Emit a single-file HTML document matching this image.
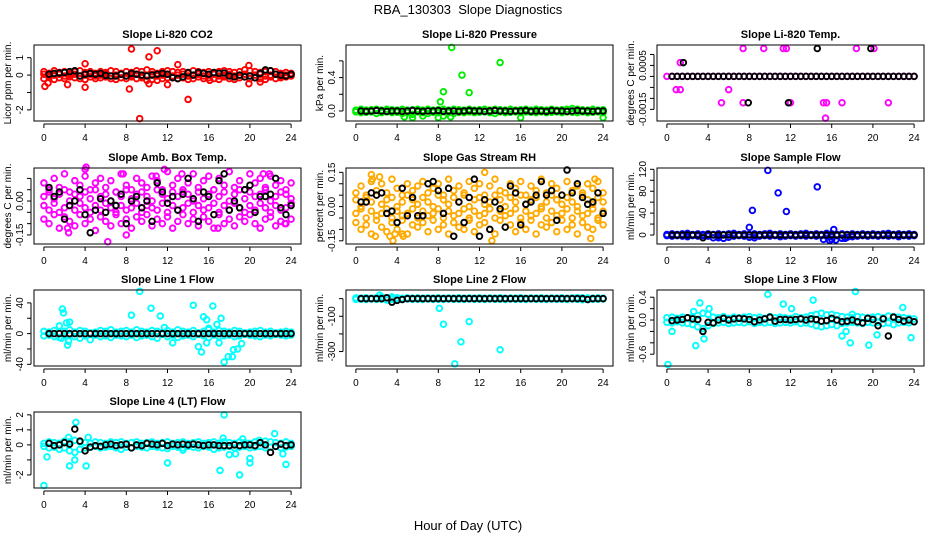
<!DOCTYPE html>
<html><head><meta charset="utf-8"><style>
body{margin:0;background:#fff}
svg{display:block;font-family:"Liberation Sans",sans-serif}
</style></head><body>
<svg id="chart" width="936" height="540" viewBox="0 0 936 540" xmlns="http://www.w3.org/2000/svg">
<rect width="936" height="540" fill="#fff"/>
<text x="468" y="14" font-size="13" text-anchor="middle">RBA_130303&#160; Slope Diagnostics</text>
<text x="468" y="530" font-size="13" text-anchor="middle">Hour of Day (UTC)</text>
</svg>
<script>
// ---------- data (bands sampled every 0.5 h; hourly-avg markers from 0.5 h) ----------
const xTicks = [0,4,8,12,16,20,24];
const xTickLabels = ["0","4","8","12","16","20","24"];

const co2Band1 = [0.2,0.1,0.25,0.15,0.2,0.1,0.2,0.25,0.15,0.2,0.1,0.2,0.15,0.25,0.2,0.1,0.2,0.15,0.25,0.2,0.3,0.2,0.1,0.2,0.25,0.2,0.15,0.2,0.1,0.25,0.2,0.15,0.2,0.1,0.2,0.25,0.2,0.15,0.2,0.3,0.25,0.2,0.15,0.2,0.25,0.2,0.1,0.15,0.1];
const co2Band2 = [-0.2,-0.1,-0.25,-0.15,-0.2,-0.1,-0.15,-0.2,-0.25,-0.1,-0.2,-0.15,-0.1,-0.2,-0.25,-0.15,-0.2,-0.1,-0.2,-0.15,-0.3,-0.25,-0.3,-0.2,-0.15,-0.1,-0.2,-0.15,-0.25,-0.2,-0.1,-0.2,-0.15,-0.2,-0.25,-0.1,-0.2,-0.25,-0.15,-0.1,-0.2,-0.15,-0.2,-0.25,-0.1,-0.2,-0.15,-0.1,-0.05];
const co2Band3 = [0.05,-0.05,0,0.05,-0.05,0,0.05,-0.05,0,0.05,-0.05,0,0.05,-0.05,0,0.05,-0.05,0,0.05,-0.05,0,0.05,-0.05,0,0.05,-0.05,0,0.05,-0.05,0,0.05,-0.05,0,0.05,-0.05,0,0.05,-0.05,0,0.05,-0.05,0,0.05,-0.05,0,0.05,-0.05,0,0.05];
const co2OutX = [0.1,0.4,4,4,8.3,8.5,9.3,10.2,10.2,11,12,13,14,19.9,19.9,2.3,21,16.1];
const co2OutY = [-0.65,-0.45,0.65,-0.7,-0.8,1.5,-2.5,1.05,-0.5,1.4,-0.55,0.6,-1.4,0.55,-0.5,-0.55,-0.4,-0.3];
const co2Avg = [0.05,0.1,0.12,0.15,0.2,0.25,-0.05,0.05,0.1,0.05,0.1,-0.02,-0.05,-0.05,0.05,-0.05,0.1,0.05,0,-0.05,0,0.05,0.1,0.05,-0.15,-0.2,-0.1,0.15,0,0.15,0.1,0.05,0.15,0.1,0.12,-0.05,-0.1,0,-0.1,-0.05,-0.15,0.1,0.3,0.25,0.05,0,-0.05,0.05];

const presBand1 = [0.01,0.02,0.01,0.015,0.02,0.01,0.02,0.015,0.01,0.02,0.01,0.015,0.02,0.01,0.02,0.01,0.015,0.02,0.01,0.02,0.015,0.01,0.02,0.01,0.015,0.02,0.01,0.02,0.015,0.01,0.02,0.01,0.015,0.02,0.01,0.02,0.015,0.01,0.02,0.01,0.015,0.02,0.03,0.02,0.015,0.01,0.02,0.01,0.015];
const presBand2 = [-0.01,-0.02,-0.015,-0.01,-0.03,-0.02,-0.01,-0.02,-0.015,-0.03,-0.02,-0.04,-0.01,-0.02,-0.03,-0.015,-0.02,-0.01,-0.02,-0.03,-0.015,-0.02,-0.01,-0.02,-0.015,-0.01,-0.02,-0.03,-0.01,-0.02,-0.015,-0.01,-0.02,-0.01,-0.015,-0.02,-0.01,-0.02,-0.015,-0.01,-0.02,-0.01,-0.015,-0.02,-0.01,-0.02,-0.015,-0.01,-0.02];
const presOutX = [9.3,14,10.3,8.5,11,8.2,4.7,5.5,6.5,8,9.2,16,24,8.5];
const presOutY = [0.76,0.58,0.43,0.23,0.22,0.11,-0.07,-0.08,-0.06,-0.08,-0.07,-0.08,-0.08,-0.06];
const presAvg = [0,-0.005,0,0.005,0,-0.005,0,0,-0.005,0,0.005,0,-0.005,0,0,0.005,-0.005,0,0,-0.005,0,0.005,0,0,-0.005,0,0.005,0,0,-0.005,0,0,0.005,-0.005,0,0,-0.005,0.005,0,0,-0.005,0,0.005,0,0,-0.005,0,0];

const tempBand1 = [0,0,0,0,0,0,0,0,0,0,0,0,0,0,0,0,0,0,0,0,0,0,0,0,0,0,0,0,0,0,0,0,0,0,0,0,0,0,0,0,0,0,0,0,0,0,0,0,0];
const tempOutX = [7.4,9.4,11.3,11.6,18.4,20.1,1.3,0.9,1.3,6,5.3,7.4,12,15.2,15.5,17,21.5,15.4];
const tempOutY = [0.00127,0.00127,0.00127,0.00127,0.00127,0.00127,0.00063,-0.0006,-0.0006,-0.0006,-0.0012,-0.0012,-0.0012,-0.0012,-0.0012,-0.0012,-0.0012,-0.0019];
const tempAvg = [0,0,0,0,0,0,0,0,0,0,0,0,0,0,0,0,0,0,0,0,0,0,0,0,0,0,0,0,0,0,0,0,0,0,0,0,0,0,0,0,0,0,0,0,0,0,0,0];
const tempAvgOutX = [14.6,19.8,1.6,7.9,11.8];
const tempAvgOutY = [0.00127,0.00127,0.00063,-0.0012,-0.0012];

const ambBand1 = [0.08,0.05,0.1,0.06,0.12,0.04,0.09,0.07,0.11,0.05,0.08,0.1,0.06,0.09,0.04,0.12,0.07,0.05,0.1,0.08,0.06,0.11,0.09,0.05,0.13,0.07,0.1,0.04,0.08,0.12,0.06,0.09,0.11,0.05,0.1,0.07,0.13,0.06,0.09,0.05,0.12,0.08,0.1,0.06,0.11,0.07,0.09,0.05,0.08];
const ambBand2 = [0.02,0.04,0.01,0.03,0.05,0,0.03,0.02,0.04,0.01,0.05,0.02,0.03,0,0.04,0.02,0.05,0.01,0.03,0.04,0.02,0,0.05,0.03,0.01,0.04,0.02,0.05,0.03,0,0.04,0.01,0.03,0.05,0.02,0.04,0,0.03,0.05,0.01,0.04,0.02,0.03,0.05,0,0.02,0.04,0.03,0.01];
const ambBand3 = [-0.02,-0.04,-0.01,-0.05,-0.03,-0.02,-0.04,-0.01,-0.03,-0.05,-0.02,-0.04,-0.01,-0.03,-0.05,-0.02,-0.04,-0.03,-0.01,-0.05,-0.02,-0.03,-0.04,-0.01,-0.05,-0.02,-0.04,-0.03,-0.01,-0.05,-0.02,-0.04,-0.03,-0.01,-0.05,-0.02,-0.04,-0.01,-0.03,-0.05,-0.02,-0.04,-0.01,-0.03,-0.05,-0.02,-0.04,-0.03,-0.01];
const ambBand4 = [-0.08,-0.1,-0.06,-0.12,-0.07,-0.09,-0.11,-0.06,-0.1,-0.08,-0.13,-0.07,-0.09,-0.11,-0.06,-0.1,-0.08,-0.12,-0.07,-0.09,-0.06,-0.11,-0.08,-0.1,-0.07,-0.12,-0.09,-0.06,-0.1,-0.08,-0.11,-0.07,-0.09,-0.12,-0.06,-0.1,-0.08,-0.11,-0.07,-0.09,-0.06,-0.1,-0.12,-0.08,-0.07,-0.11,-0.09,-0.1,-0.08];
const ambOutX = [2.3,2.4,4,4.1,6.2,7.7,8,11.7,16.9,21.3,21.9,23.4,13.4,10.9];
const ambOutY = [-0.12,-0.14,0.14,0.15,-0.18,0.12,-0.15,0.14,-0.12,0.12,0.12,-0.1,0.12,0.11];
const ambAvg = [0.06,0.02,0.04,-0.08,-0.02,0,0.05,-0.06,-0.14,-0.04,0.01,-0.05,0,-0.02,0.03,-0.1,0,0.02,-0.03,0,-0.09,0.08,0.04,-0.01,0.02,-0.04,0.03,0.1,0.01,-0.09,0.04,0.02,-0.06,0.09,0.12,-0.04,0,-0.03,0.05,0.07,-0.05,0.02,0.02,0.03,0.1,-0.03,-0.06,-0.02];

const rhBand1 = [0.06,0.09,0.05,0.11,0.07,0.1,0.06,0.12,0.08,0.05,0.1,0.07,0.09,0.11,0.06,0.08,0.1,0.05,0.12,0.07,0.09,0.06,0.11,0.08,0.1,0.05,0.09,0.12,0.07,0.06,0.1,0.08,0.11,0.05,0.09,0.07,0.12,0.06,0.1,0.08,0.05,0.11,0.07,0.09,0.06,0.1,0.08,0.11,0.06];
const rhBand2 = [0.03,0,0.04,0.02,0.05,0.01,0.03,0.04,0,0.02,0.05,0.03,0.01,0.04,0.02,0,0.05,0.03,0.01,0.04,0.02,0.05,0,0.03,0.04,0.01,0.02,0.05,0.03,0,0.04,0.02,0.05,0.01,0.03,0.04,0,0.02,0.05,0.03,0.01,0.04,0.02,0,0.05,0.03,0.01,0.04,0.02];
const rhBand3 = [-0.03,-0.01,-0.05,-0.02,-0.04,-0.03,-0.01,-0.05,-0.02,-0.04,-0.03,-0.01,-0.05,-0.02,-0.04,-0.03,-0.01,-0.05,-0.02,-0.04,-0.03,-0.01,-0.05,-0.02,-0.04,-0.03,-0.01,-0.05,-0.02,-0.04,-0.03,-0.01,-0.05,-0.02,-0.04,-0.03,-0.01,-0.05,-0.02,-0.04,-0.03,-0.01,-0.05,-0.02,-0.04,-0.03,-0.01,-0.05,-0.02];
const rhBand4 = [-0.07,-0.1,-0.08,-0.12,-0.06,-0.09,-0.11,-0.07,-0.1,-0.06,-0.12,-0.08,-0.09,-0.07,-0.11,-0.06,-0.1,-0.08,-0.12,-0.07,-0.09,-0.1,-0.06,-0.11,-0.08,-0.07,-0.1,-0.12,-0.06,-0.09,-0.08,-0.11,-0.07,-0.1,-0.06,-0.12,-0.08,-0.09,-0.07,-0.11,-0.06,-0.1,-0.08,-0.12,-0.07,-0.09,-0.1,-0.06,-0.08];
const rhOutX = [1.5,1.6,1.9,2.3,3.3,3.6,3.8,4.5,4.6,12.5,13.2,23.2,22.8];
const rhOutY = [0.14,0.12,-0.13,0.13,-0.13,-0.15,-0.12,-0.12,-0.13,0.15,-0.15,0.12,-0.14];
const rhAvg = [0.02,0.02,0.06,0.05,0.06,-0.03,-0.02,-0.07,0.08,-0.04,0.04,-0.04,-0.04,0.1,0.11,0.07,-0.03,0.08,-0.13,0.02,-0.07,0.04,0.12,-0.13,0.03,-0.1,0.02,-0.01,-0.09,0.09,0.06,-0.08,0.01,0.02,0.05,0.11,0.05,0.07,-0.06,0.05,0.16,0.06,0.1,0.04,0.01,0.02,0.06,-0.03];

const sfBand1 = [1,2,1,2,3,1,2,1,2,1,2,1,2,3,1,2,1,2,1,2,3,1,2,1,2,1,2,3,1,2,1,3,2,1,2,1,2,1,2,1,2,1,2,3,1,2,1,2,1];
const sfBand2 = [-1,-2,-1,-2,-3,-1,-2,-1,-2,-5,-3,-6,-4,-2,-1,-2,-4,-1,-2,-1,-2,-1,-3,-2,-1,-2,-1,-2,-1,-2,-1,-2,-3,-1,-6,-4,-3,-2,-1,-2,-1,-2,-1,-2,-1,-3,-1,-2,-1];
const sfOutX = [9.8,10.8,11.6,8.3,8,14.6,16,16.2,8.5,5,15.2,17.3,15.8,16.4];
const sfOutY = [118,77,43,45,14,88,-8,10,-5,-5,-8,-6,-10,-9];
const sfAvg = [0,0,0,0,0,0,-5,1,0,0,0,0,0,0,0,0,0,0,0,0,0,0,0,0,0,0,0,0,0,0,0,0,0,0,0,0,0,0,0,0,0,0,0,0,0,0,0,0];

const l1Band1 = [3,2,4,1,3,5,2,4,3,1,2,4,3,5,2,3,4,2,5,3,2,4,3,1,4,2,5,3,2,4,1,3,5,2,4,3,2,4,3,1,2,3,4,2,3,1,2,3,2];
const l1Band2 = [-3,-2,-4,-5,-3,-2,-4,-6,-3,-8,-2,-4,-3,-5,-2,-3,-4,-2,-5,-3,-2,-4,-6,-1,-4,-2,-5,-3,-2,-4,-1,-3,-5,-2,-4,-3,-2,-4,-3,-1,-2,-3,-4,-2,-3,-1,-2,-3,-2];
const l1OutX = [1.5,1.8,1.9,2.2,2.5,2.3,2.4,1.7,8.5,9.3,10.4,11.3,11.7,12.5,14.5,15,15.3,15.5,15.8,16,16.4,16.8,17.2,17.5,17.9,18.3,18.4,18.8,19.2,17,15.8];
const l1OutY = [10,32,27,14,15,-15,-10,-6,24,55,33,23,8,-12,37,-17,-24,22,18,7,36,12,20,-37,-30,-30,-21,-20,-13,-12,-12];
const l1Avg = [0,0,0,0,0,0,0,0,0,0,0,0,0,0,0,0,0,0,0,0,0,0,0,0,0,0,0,0,0,0,0,0,0,0,0,0,0,0,0,0,0,0,0,0,0,0,0,0];

const l2Band1 = [4,3,5,2,6,10,4,3,5,2,4,3,5,2,4,3,5,2,4,3,5,2,4,3,5,2,4,3,5,2,4,3,5,2,4,3,5,2,4,3,5,2,4,6,5,4,3,5,2];
const l2Band2 = [-4,-3,-5,-2,-4,-3,-8,-4,-3,-5,-2,-4,-3,-5,-2,-4,-3,-5,-2,-4,-3,-5,-2,-4,-3,-5,-2,-4,-3,-5,-2,-4,-3,-5,-2,-4,-3,-5,-2,-4,-3,-5,-2,-4,-6,-5,-4,-3,-2];
const l2OutX = [8.1,8.5,9.6,10.2,11,14,2.3,3.5];
const l2OutY = [-55,-145,-370,-245,-130,-290,20,10];
const l2Avg = [0,0,0,0,0,5,-20,-10,-5,0,0,0,0,0,0,0,0,0,0,0,0,0,0,0,0,0,0,0,0,0,0,0,0,0,0,0,0,0,0,0,0,0,0,0,-5,0,0,0];

const l3Band1 = [0.04,0.05,0.03,0.05,0.04,0.06,0.08,0.12,0.1,0.05,0.04,0.06,0.03,0.05,0.04,0.05,0.06,0.04,0.05,0.03,0.06,0.04,0.05,0.04,0.03,0.06,0.04,0.05,0.08,0.1,0.12,0.09,0.1,0.08,0.06,0.05,0.04,0.06,0.05,0.04,0.05,0.06,0.04,0.07,0.06,0.05,0.04,0.03,0.02];
const l3Band2 = [-0.04,-0.05,-0.03,-0.05,-0.06,-0.08,-0.12,-0.15,-0.1,-0.06,-0.05,-0.04,-0.06,-0.05,-0.04,-0.05,-0.03,-0.06,-0.04,-0.05,-0.04,-0.06,-0.05,-0.04,-0.05,-0.03,-0.06,-0.05,-0.07,-0.1,-0.12,-0.1,-0.08,-0.1,-0.06,-0.05,-0.04,-0.05,-0.06,-0.04,-0.05,-0.04,-0.06,-0.05,-0.08,-0.05,-0.04,-0.05,-0.03];
const l3OutX = [0.1,0.5,2.8,3.2,3.6,2.6,4.1,9.8,11.3,12.1,14.2,17,17.4,17.8,18.3,18,19.6,20.4,23.7,22.9];
const l3OutY = [-0.78,-0.2,-0.45,0.3,-0.33,0.15,0.2,0.45,0.28,0.2,0.35,-0.28,-0.2,-0.4,0.5,0.1,-0.44,-0.26,-0.31,0.22];
const l3Avg = [-0.01,0,0.01,0.04,0.02,0.01,-0.2,-0.04,-0.05,0,0.03,0,0.02,0.03,0.02,0.01,-0.03,0,0.02,0.05,-0.02,0.01,0.01,0,0.01,0.02,0,0.02,0.01,-0.02,-0.01,0.03,0,-0.03,-0.02,0,-0.03,-0.05,0.03,0.01,-0.1,0.02,-0.28,0.05,0.01,-0.02,0,-0.03];

const l4Band1 = [0.1,0.2,0.15,0.1,0.25,0.2,0.3,0.2,0.15,0.1,0.2,0.15,0.1,0.2,0.15,0.2,0.1,0.15,0.2,0.1,0.15,0.2,0.1,0.15,0.2,0.1,0.15,0.2,0.1,0.15,0.2,0.1,0.15,0.2,0.1,0.2,0.15,0.1,0.2,0.15,0.1,0.2,0.15,0.25,0.2,0.15,0.1,0.2,0.1];
const l4Band2 = [-0.1,-0.2,-0.15,-0.3,-0.2,-0.4,-0.5,-0.3,-0.2,-0.15,-0.1,-0.2,-0.15,-0.1,-0.2,-0.3,-0.15,-0.2,-0.1,-0.15,-0.2,-0.1,-0.15,-0.2,-0.25,-0.1,-0.15,-0.2,-0.1,-0.15,-0.2,-0.1,-0.15,-0.3,-0.2,-0.15,-0.1,-0.2,-0.15,-0.1,-0.2,-0.15,-0.1,-0.2,-0.15,-0.1,-0.2,-0.15,-0.1];
const l4OutX = [0,0.3,2.5,2.4,3,3.1,4.1,4.3,12,13.5,17.1,17.5,17.4,18,18.6,19,19.3,20,20,20.9,22.4,23.2,23.5];
const l4OutY = [-2.7,-0.8,-1.4,0.5,-1,1.5,-1.4,0.5,-1.2,-0.35,-1.7,2,0.45,-0.65,-0.6,-2,0.4,-1.2,-0.9,0.3,0.75,-0.6,-1.3];
const l4Avg = [0.1,-0.05,0,0.15,0.05,1.05,0.25,-0.4,-0.15,-0.05,-0.1,0,0.05,-0.05,0,0.05,-0.2,0,-0.05,0.1,0.05,0,0.1,-0.05,0.05,0,0.05,0,0.05,0,-0.05,0,0,-0.05,-0.05,-0.05,0,-0.05,0,0,-0.05,0.15,0,-0.5,-0.1,0.05,-0.05,0];

// ---------- panels ----------
const panels = [
 {id:"co2",title:"Slope Li-820 CO2",ylab:"Licor ppm per min.",col:0,row:0,ymin:-2.64,ymax:1.73,ticks:[1,0,-1,-2],labels:[["1",1],["0",0],["-2",-2]],color:"#ff0000",bands:[co2Band1,co2Band2,co2Band3],ox:co2OutX,oy:co2OutY,avg:co2Avg},
 {id:"pressure",title:"Slope Li-820 Pressure",ylab:"kPa per min.",col:1,row:0,ymin:-0.12,ymax:0.79,ticks:[0,0.2,0.4,0.6],labels:[["0.0",0],["0.4",0.4]],color:"#00ee00",bands:[presBand1,presBand2],ox:presOutX,oy:presOutY,avg:presAvg},
 {id:"temp",title:"Slope Li-820 Temp.",ylab:"degrees C per min.",col:2,row:0,ymin:-0.00203,ymax:0.00143,ticks:[0.001,0.0005,0,-0.0005,-0.001,-0.0015],labels:[["0.0005",0.0005],["-0.0015",-0.0015]],color:"#ff00ff",bands:[tempBand1],ox:tempOutX,oy:tempOutY,avg:tempAvg,ax:tempAvgOutX,ay:tempAvgOutY},
 {id:"amb-box-temp",title:"Slope Amb. Box Temp.",ylab:"degrees C per min.",col:0,row:1,ymin:-0.19,ymax:0.146,ticks:[0.1,0.05,0,-0.05,-0.1,-0.15],labels:[["0.00",0],["-0.15",-0.15]],color:"#ff00ff",bands:[ambBand1,ambBand2,ambBand3,ambBand4],ox:ambOutX,oy:ambOutY,avg:ambAvg},
 {id:"gas-stream-rh",title:"Slope Gas Stream RH",ylab:"percent per min.",col:1,row:1,ymin:-0.164,ymax:0.169,ticks:[0.15,0.1,0.05,0,-0.05,-0.1,-0.15],labels:[["0.15",0.15],["0.00",0],["-0.15",-0.15]],color:"#ffaa00",bands:[rhBand1,rhBand2,rhBand3,rhBand4],ox:rhOutX,oy:rhOutY,avg:rhAvg},
 {id:"sample-flow",title:"Slope Sample Flow",ylab:"ml/min per min.",col:2,row:1,ymin:-16.4,ymax:122.4,ticks:[0,20,40,60,80,100,120],labels:[["0",0],["40",40],["80",80],["120",120]],color:"#0000ff",bands:[sfBand1,sfBand2],ox:sfOutX,oy:sfOutY,avg:sfAvg},
 {id:"line1-flow",title:"Slope Line 1 Flow",ylab:"ml/min per min.",col:0,row:2,ymin:-42.2,ymax:56.8,ticks:[40,20,0,-20,-40],labels:[["40",40],["0",0],["-40",-40]],color:"#00ffff",bands:[l1Band1,l1Band2],ox:l1OutX,oy:l1OutY,avg:l1Avg},
 {id:"line2-flow",title:"Slope Line 2 Flow",ylab:"ml/min per min.",col:1,row:2,ymin:-382,ymax:49,ticks:[0,-100,-200,-300],labels:[["-100",-100],["-300",-300]],color:"#00ffff",bands:[l2Band1,l2Band2],ox:l2OutX,oy:l2OutY,avg:l2Avg},
 {id:"line3-flow",title:"Slope Line 3 Flow",ylab:"ml/min per min.",col:2,row:2,ymin:-0.807,ymax:0.527,ticks:[0.4,0.2,0,-0.2,-0.4,-0.6],labels:[["0.4",0.4],["0.0",0],["-0.6",-0.6]],color:"#00ffff",bands:[l3Band1,l3Band2],ox:l3OutX,oy:l3OutY,avg:l3Avg},
 {id:"line4-flow",title:"Slope Line 4 (LT) Flow",ylab:"ml/min per min.",col:0,row:3,ymin:-2.87,ymax:2.19,ticks:[2,1,0,-1,-2],labels:[["2",2],["1",1],["0",0],["-2",-2]],color:"#00ffff",bands:[l4Band1,l4Band2],ox:l4OutX,oy:l4OutY,avg:l4Avg}
];

const NS="http://www.w3.org/2000/svg";
const svg=document.getElementById('chart');
const colLeft=[34,346,657], rowTop=[45,168,290,412], PW=267, PH=76;
const R=2.8, SW=1.9;
function mk(tag,attrs,parent){const e=document.createElementNS(NS,tag);for(const k in attrs)e.setAttribute(k,attrs[k]);parent.appendChild(e);return e;}

panels.forEach(p=>{
  const L=colLeft[p.col], T=rowTop[p.row];
  const g=mk('g',{},svg);
  
  
  const sx=h=>L+(h+0.96)/25.92*PW;
  const sy=v=>T+(p.ymax-v)/(p.ymax-p.ymin)*PH;
  const t=mk('text',{x:L+PW/2,y:T-7,'font-size':11,'font-weight':'bold','text-anchor':'middle'},g);
  t.textContent=p.title;
  
  
  const yl=mk('text',{x:0,y:0,'font-size':10,'text-anchor':'middle',transform:`translate(${L-23},${T+PH/2}) rotate(-90)`},g);
  yl.textContent=p.ylab;
  
  
  const pts=mk('g',{fill:'none','stroke-width':SW},g);
  
  
  p.bands.forEach(b=>b.forEach((v,i)=>{mk('circle',{cx:sx(i*0.5),cy:sy(v),r:R,stroke:p.color},pts);}));
  p.ox.forEach((x,i)=>{mk('circle',{cx:sx(x),cy:sy(p.oy[i]),r:R,stroke:p.color},pts);});
  const av=mk('g',{fill:'none','stroke-width':SW,stroke:'#000'},g);
  
  
  p.avg.forEach((v,i)=>{mk('circle',{cx:sx((i+1)*0.5),cy:sy(v),r:R},av);});
  if(p.ax)p.ax.forEach((x,i)=>{mk('circle',{cx:sx(x),cy:sy(p.ay[i]),r:R},av);});
  const box=mk('rect',{x:L,y:T,width:PW,height:PH,fill:'none',stroke:'#000','stroke-width':1},g);
  
  
  const xa=mk('g',{},g);
  
  
  mk('line',{x1:sx(xTicks[0]),x2:sx(xTicks[xTicks.length-1]),y1:T+PH+3,y2:T+PH+3,stroke:'#000'},xa);
  xTicks.forEach((h,i)=>{
    mk('line',{x1:sx(h),x2:sx(h),y1:T+PH+3,y2:T+PH+7,stroke:'#000'},xa);
    const tl=mk('text',{x:sx(h),y:T+PH+20,'font-size':10,'text-anchor':'middle'},xa);
    tl.textContent=xTickLabels[i];
  });
  const ya=mk('g',{},g);
  
  
  const ys=p.ticks.map(sy);
  mk('line',{x1:L-3,x2:L-3,y1:Math.min(...ys),y2:Math.max(...ys),stroke:'#000'},ya);
  ys.forEach(y=>mk('line',{x1:L-7,x2:L-3,y1:y,y2:y,stroke:'#000'},ya));
  p.labels.forEach(([s,v])=>{
    const tl=mk('text',{x:0,y:0,'font-size':10,'text-anchor':'middle',transform:`translate(${L-11},${sy(v)}) rotate(-90)`},ya);
    tl.textContent=s;
  });
});
</script>
</body></html>
